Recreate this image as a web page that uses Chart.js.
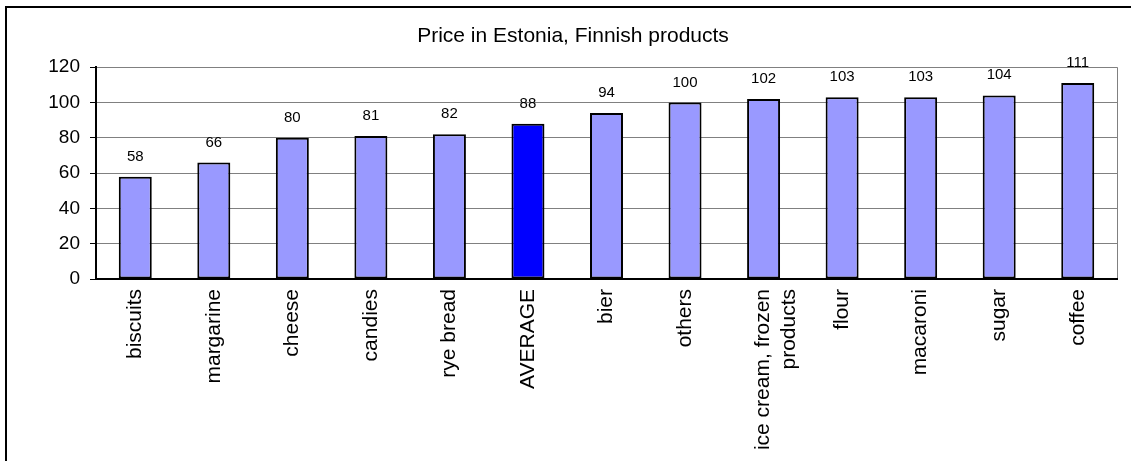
<!DOCTYPE html>
<html>
<head>
<meta charset="utf-8">
<script src="https://cdn.jsdelivr.net/npm/chart.js@4/dist/chart.umd.min.js"></script>
<style>
html,body{margin:0;padding:0;background:#fff;overflow:hidden}
#wrap{position:relative;width:1131px;height:461px}
#frame{position:absolute;left:5px;top:6px;width:1140px;height:470px;border:2px solid #000;pointer-events:none}
canvas{display:block}
</style>
</head>
<body>
<div id="wrap"><canvas id="c" width="1131" height="461"></canvas><div id="frame"></div></div>
<script>
const chartTitle = 'Price in Estonia, Finnish products';
const categories = ['biscuits', 'margarine', 'cheese', 'candies', 'rye bread', 'AVERAGE', 'bier', 'others', 'ice cream, frozen products', 'flour', 'macaroni', 'sugar', 'coffee'];
const prices = [58, 66, 80, 81, 82, 88, 94, 100, 102, 103, 103, 104, 111];
const yTickValues = [0, 20, 40, 60, 80, 100, 120];
const highlightCategory = 'AVERAGE';

const FONT = "'Liberation Sans', Arial, sans-serif";
Chart.defaults.font.family = FONT;
Chart.defaults.color = '#000';

function wrapLabel(s) {
  if (s.length <= 18) return s;
  const cut = s.lastIndexOf(' ', 18);
  return [s.slice(0, cut), s.slice(cut + 1)];
}

const valueLabels = {
  id: 'valueLabels',
  afterDatasetsDraw(chart) {
    const ctx = chart.ctx;
    const meta = chart.getDatasetMeta(0);
    const data = chart.data.datasets[0].data;
    ctx.save();
    ctx.font = '15px ' + FONT;
    ctx.fillStyle = '#000';
    ctx.textAlign = 'center';
    ctx.textBaseline = 'alphabetic';
    meta.data.forEach((bar, i) => {
      ctx.fillText(String(data[i]), bar.x, bar.y - 16);
    });
    ctx.restore();
  }
};

new Chart(document.getElementById('c'), {
  type: 'bar',
  data: {
    labels: categories,
    datasets: [{
      data: prices,
      backgroundColor: categories.map(c => c === highlightCategory ? '#0000FF' : '#9999FF'),
      borderColor: '#000',
      borderWidth: 2,
      borderSkipped: false,
      barPercentage: 0.42,
      categoryPercentage: 1.0
    }]
  },
  options: {
    responsive: false,
    animation: false,
    devicePixelRatio: 1,
    layout: { padding: { left: 29, right: 14, top: 0, bottom: 0 } },
    plugins: {
      legend: { display: false },
      tooltip: { enabled: false },
      title: {
        display: true,
        text: chartTitle,
        color: '#000',
        font: { size: 21, weight: 'normal', family: FONT },
        padding: { top: 24, bottom: 18 }
      }
    },
    scales: {
      x: {
        offset: true,
        grid: {
          display: true,
          drawOnChartArea: true,
          drawTicks: false,
          offset: true,
          color: c => c.type === 'tick' ? 'rgba(0,0,0,0)' : '#808080',
          lineWidth: 1
        },
        border: { display: true, color: '#000', width: 2 },
        ticks: {
          autoSkip: false,
          minRotation: 90,
          maxRotation: 90,
          padding: 10,
          color: '#000',
          font: { size: 21, family: FONT },
          callback: function (v, i) { return wrapLabel(categories[i]); }
        },
        afterFit: s => { s.height = 182; }
      },
      y: {
        min: 0,
        max: 120,
        afterBuildTicks: s => { s.ticks = yTickValues.map(v => ({ value: v })); },
        grid: {
          color: '#808080',
          lineWidth: 1,
          tickLength: 6,
          tickColor: '#000'
        },
        border: { display: true, color: '#000', width: 2 },
        ticks: {
          padding: 10,
          color: '#000',
          font: { size: 19, family: FONT }
        },
        afterFit: s => { s.width = 67; }
      }
    }
  },
  plugins: [valueLabels]
});
</script>
</body>
</html>
